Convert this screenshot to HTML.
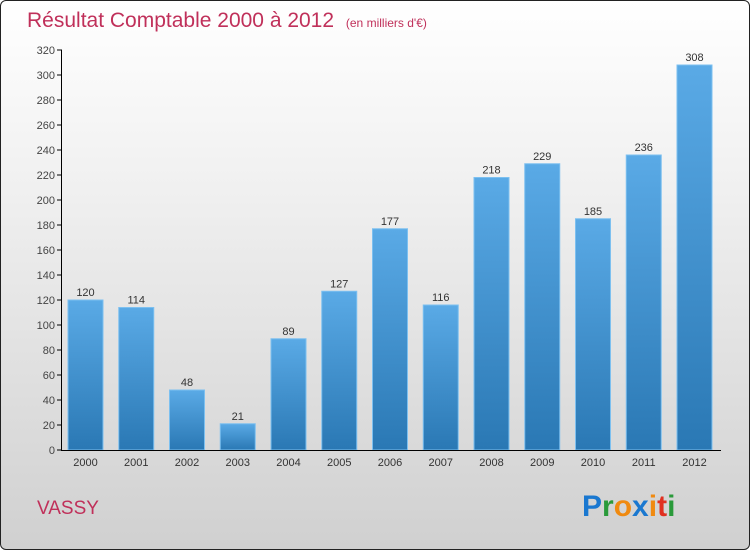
<!DOCTYPE html>
<html><head><meta charset="utf-8"><style>
body{margin:0;width:750px;height:550px;overflow:hidden;font-family:"Liberation Sans",sans-serif}
#frame{position:absolute;left:0;top:0;width:748px;height:548px;border:1px solid #222;border-radius:6px;background:linear-gradient(#ffffff,#f2f2f2 30%,#d0d0d0);overflow:hidden}
</style></head><body>
<div id="frame">
<svg id="svg" width="750" height="550" style="position:absolute;left:-1px;top:-1px">
<defs><linearGradient id="bg" x1="0" y1="0" x2="0" y2="1"><stop offset="0" stop-color="#5aaae6"/><stop offset="1" stop-color="#2a78b4"/></linearGradient></defs>
<text x="27" y="27" font-size="21" fill="#c0305a">Résultat Comptable 2000 à 2012 <tspan font-size="12" dx="6">(en milliers d'€)</tspan></text>
<text x="37" y="514" font-size="19" fill="#c0305a">VASSY</text>
<g font-size="30" font-weight="bold" font-family="'Liberation Sans',sans-serif">
<text x="582" y="516" fill="#1a78d0">P<tspan fill="#2a9a3a">r</tspan><tspan fill="#f08a10">o</tspan><tspan fill="#1a78d0">x</tspan><tspan fill="#f08a10">i</tspan><tspan fill="#e03020">t</tspan><tspan fill="#2a9a3a">i</tspan></text></g>
<g id="plot"></g>
</svg></div>
<script>
const categories=["2000","2001","2002","2003","2004","2005","2006","2007","2008","2009","2010","2011","2012"];
const values=[120,114,48,21,89,127,177,116,218,229,185,236,308];
const yTicks=[0,20,40,60,80,100,120,140,160,180,200,220,240,260,280,300,320];
const NS="http://www.w3.org/2000/svg";
const g=document.getElementById('plot');
const y=v=>450-v*1.25;
const x=i=>85.5+i*50.75;
function mk(t,a){const e=document.createElementNS(NS,t);for(const k in a)e.setAttribute(k,a[k]);g.appendChild(e);return e;}
yTicks.forEach(v=>{
const l=mk('line',{x1:57,x2:62,y1:y(v),y2:y(v),stroke:'#000'});


const t=mk('text',{x:55,y:y(v)+4,'font-size':11,'text-anchor':'end',fill:'#444'});t.textContent=v;


});
values.forEach((v,i)=>{
const r=mk('rect',{x:x(i)-17.5,y:y(v),width:35,height:v*1.25,fill:'url(#bg)',stroke:'#7cc0f0','stroke-width':1});


const t=mk('text',{x:x(i),y:y(v)-4,'font-size':11,'text-anchor':'middle',fill:'#333'});t.textContent=v;


const c=mk('text',{x:x(i),y:466,'font-size':11,'text-anchor':'middle',fill:'#333'});c.textContent=categories[i];


});
const ya=mk('line',{x1:61.5,x2:61.5,y1:50,y2:450,stroke:'#000'});


const xa=mk('line',{x1:61,x2:721,y1:450.5,y2:450.5,stroke:'#000'});


</script>
</body></html>
